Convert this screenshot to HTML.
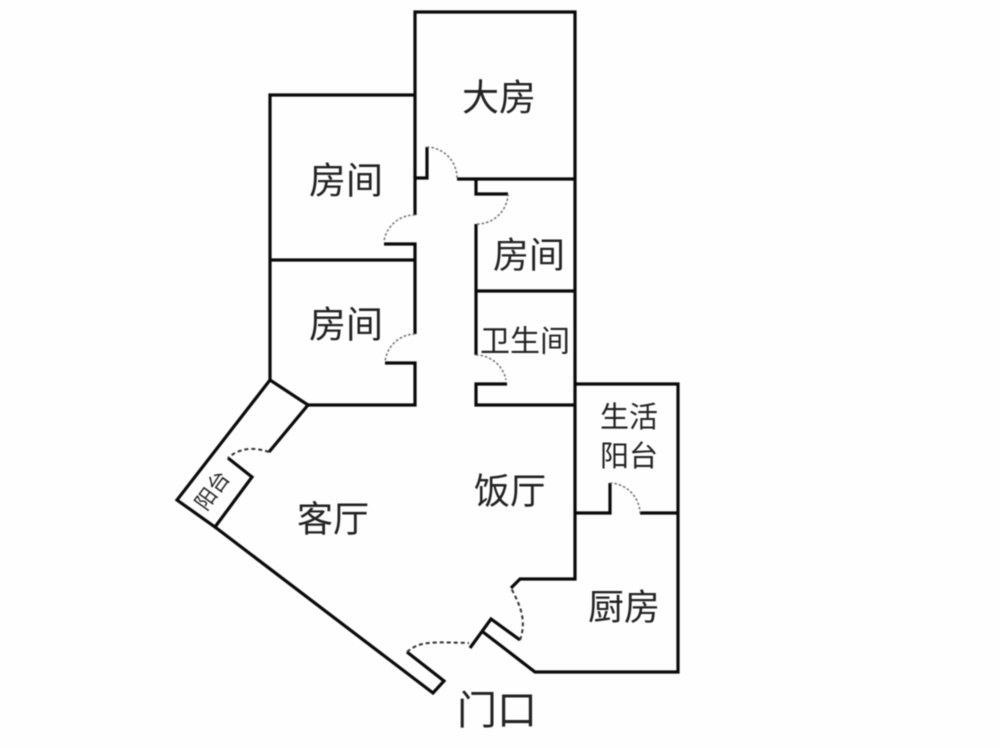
<!DOCTYPE html>
<html lang="zh"><head><meta charset="utf-8"><title>户型图</title>
<style>html,body{margin:0;padding:0;background:#fff}svg{display:block;filter:blur(.5px)}
text{font-family:"Liberation Sans","Noto Sans CJK SC",sans-serif;fill:#222;text-anchor:middle;dominant-baseline:central}</style></head>
<body>
<svg width="1000" height="748" viewBox="0 0 1000 748" xmlns="http://www.w3.org/2000/svg">
<rect width="1000" height="748" fill="#fefefe"/>
<g fill="none" stroke="#0a0a0a" stroke-width="3.2" stroke-linejoin="miter">
<path d="M415 178V12H575V579H520L511 588"/>
<path d="M427 147V178H415V215"/>
<path d="M457 179H575"/>
<path d="M415 95H270V380L308 405L269 452"/>
<path d="M270 260H415"/>
<path d="M384 244H415V334"/>
<path d="M385 363H415V405H308"/>
<path d="M508 194H476V179"/>
<path d="M476 224V355"/>
<path d="M476 291H575"/>
<path d="M507 384H476V405H575"/>
<path d="M575 384H678V672H535L483 632"/>
<path d="M575 513H610V483"/>
<path d="M640 513H678"/>
<path d="M228 458L252 477L215 527L177 500L270 380"/>
<path d="M215 527L433 693L444 681L407 652"/>
<path d="M470 648L491 619L520 640"/>
</g>
<g fill="none" stroke="#333" stroke-width="2" stroke-dasharray="4 3">
<path d="M269 452C252 446 238 449 228 458"/>
<path d="M407 652C420 641 430 642 469 643"/>
<path d="M520 640C527 620 520 605 511 588"/>
</g>
<g fill="none" stroke="#777" stroke-width="1.6" stroke-dasharray="2.5 2">
<path d="M427 147A31 31 0 0 1 457 178"/>
<path d="M508 194A31 31 0 0 1 476 224"/>
<path d="M415 215A31 31 0 0 0 384 241"/>
<path d="M415 334A31 31 0 0 0 385 362"/>
<path d="M476 355A31 31 0 0 1 506 380"/>
<path d="M610 483A31 31 0 0 1 640 513"/>
</g>
<text x="499" y="98" font-size="37">大房</text>
<text x="346" y="181" font-size="37">房间</text>
<text x="529" y="255" font-size="36">房间</text>
<text x="346" y="325" font-size="37">房间</text>
<text x="525" y="342" font-size="30">卫生间</text>
<text x="629" y="418" font-size="29">生活</text>
<text x="629" y="457" font-size="29">阳台</text>
<text x="510" y="491" font-size="36">饭厅</text>
<text x="333" y="519" font-size="36">客厅</text>
<text x="624" y="607" font-size="36">厨房</text>
<text x="497" y="711" font-size="40">门口</text>
<text x="213" y="491" font-size="21" transform="rotate(-54 213 491)">阳台</text>
</svg>
</body></html>
